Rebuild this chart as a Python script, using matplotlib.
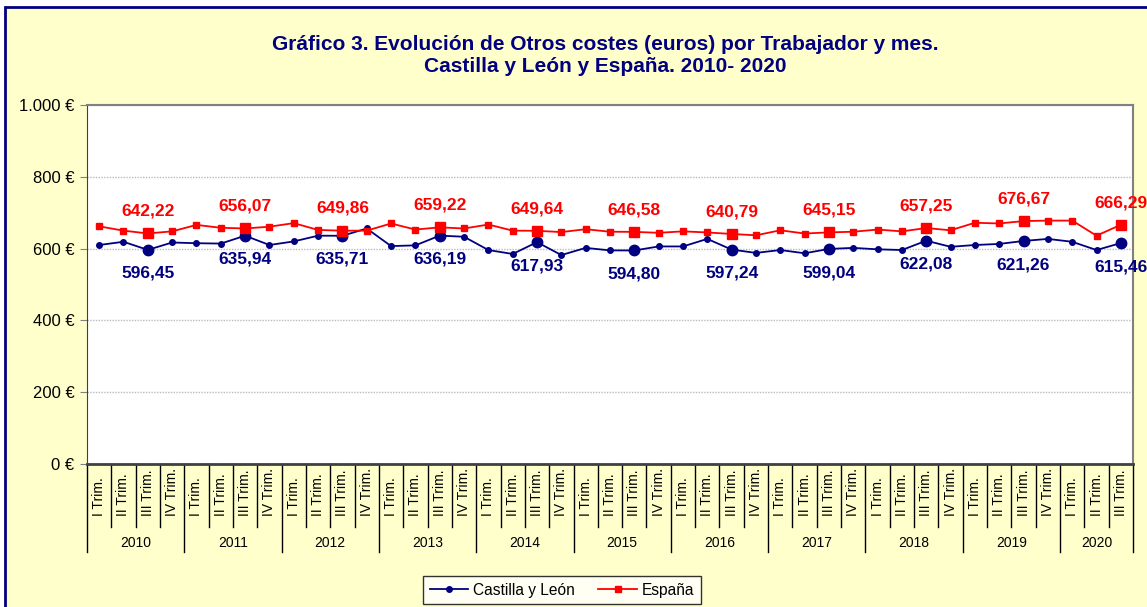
import numpy as np
import matplotlib
matplotlib.use("Agg")
import matplotlib.pyplot as plt
from matplotlib.patches import Rectangle
from matplotlib.lines import Line2D
from matplotlib.transforms import blended_transform_factory

plt.rcParams['font.family'] = ['Liberation Sans', 'DejaVu Sans']

# data
years = ["2010", "2011", "2012", "2013", "2014", "2015", "2016", "2017", "2018", "2019", "2020"]
quarters = ["I Trim.", "II Trim.", "III Trim.", "IV Trim."]
n_last_year = 3  # 2020 only up to III Trim.

castilla = [610, 619, 596.45, 617,
            615, 614, 635.94, 610,
            620, 636, 635.71, 656,
            607, 609, 636.19, 633,
            596, 585, 617.93, 582,
            602, 595, 594.80, 606,
            606, 627, 597.24, 588,
            596, 587, 599.04, 602,
            598, 596, 622.08, 605,
            610, 613, 621.26, 627,
            619, 596, 615.46]
espana = [662, 650, 642.22, 648,
          666, 658, 656.07, 661,
          671, 652, 649.86, 650,
          670, 653, 659.22, 656,
          667, 650, 649.64, 646,
          654, 647, 646.58, 644,
          648, 645, 640.79, 637,
          651, 642, 645.15, 647,
          653, 648, 657.25, 651,
          672, 670, 676.67, 678,
          678, 636, 666.29]

yticks = [0, 200, 400, 600, 800, 1000]
ytick_labels = ["0 €", "200 €", "400 €", "600 €", "800 €", "1.000 €"]

navy = "#000080"
red = "#FF0000"
W, H = 1147, 607

fig = plt.figure(figsize=(W / 100, H / 100), dpi=100, facecolor="white")

# yellow chart area with navy frame
fig.patches.append(Rectangle((5 / W, -0.1), 1.2, (H - 7) / H + 0.1,
                             transform=fig.transFigure, facecolor="#FFFFCC",
                             edgecolor=navy, linewidth=2, zorder=-10))

ax = fig.add_axes([87 / W, 1 - 464 / H, 1046 / W, 359 / H])
ax.set_facecolor("white")

labels_x = []
for y in years:
    nq = n_last_year if y == years[-1] else 4
    labels_x += quarters[:nq]
x = np.arange(len(labels_x))

ax.plot(x, castilla, color=navy, lw=1.3, marker="o", ms=4, zorder=3)
ax.plot(x, espana, color=red, lw=1.3, marker="s", ms=4, zorder=3)

# big markers and labels at III Trim.
idx = [i for i, q in enumerate(labels_x) if q == "III Trim."]
ax.plot(x[idx], [castilla[i] for i in idx], ls="none", marker="o", ms=7.5, color=navy, zorder=4)
ax.plot(x[idx], [espana[i] for i in idx], ls="none", marker="s", ms=7.5, color=red, zorder=4)
for i in idx:
    ax.annotate(f"{espana[i]:.2f}".replace(".", ","), (x[i], espana[i]),
                xytext=(0, 16), textcoords="offset points", ha="center", va="center",
                color=red, fontsize=12.5, fontweight="bold")
    ax.annotate(f"{castilla[i]:.2f}".replace(".", ","), (x[i], castilla[i]),
                xytext=(0, -17), textcoords="offset points", ha="center", va="center",
                color=navy, fontsize=12.5, fontweight="bold")

ax.set_xlim(-0.5, len(x) - 0.5)
ax.set_ylim(0, 1000)
ax.set_yticks(yticks)
ax.set_yticklabels(ytick_labels, fontsize=12)
ax.tick_params(axis="y", length=5, color="#808080", pad=4)
ax.yaxis.grid(True, color="#BBBBBB", linestyle=(0, (1, 1)), linewidth=1)
ax.set_axisbelow(True)
ax.set_xticks([])

for s in ["top", "right"]:
    ax.spines[s].set_color("#808080")
    ax.spines[s].set_linewidth(1.5)
ax.spines["left"].set_color("#404040")
ax.spines["bottom"].set_color("#404040")
ax.spines["bottom"].set_linewidth(2)

# multi-level category axis
tr = blended_transform_factory(ax.transData, fig.transFigure)
y0 = 1 - 464 / H
yq = 1 - 527 / H
yy = 1 - 552 / H
year_bounds = [0]
for y in years:
    nq = n_last_year if y == years[-1] else 4
    year_bounds.append(year_bounds[-1] + nq)
for b in range(len(x) + 1):
    bot = yy if b in year_bounds else yq
    ax.add_line(Line2D([b - 0.5, b - 0.5], [y0, bot], transform=tr,
                       color="black", lw=1, clip_on=False))
for i, lab in enumerate(labels_x):
    ax.text(i, 1 - 516 / H, lab, transform=tr, rotation=90, ha="center", va="bottom",
            fontsize=10)
for k, y in enumerate(years):
    c = (year_bounds[k] + year_bounds[k + 1]) / 2 - 0.5
    ax.text(c, 1 - 543 / H, y, transform=tr, ha="center", va="center", fontsize=10)

fig.text(605 / W, 1 - 44 / H,
         "Gráfico 3. Evolución de Otros costes (euros) por Trabajador y mes.",
         ha="center", va="center", fontsize=15, fontweight="bold", color=navy)
fig.text(605 / W, 1 - 66 / H, "Castilla y León y España. 2010- 2020",
         ha="center", va="center", fontsize=15, fontweight="bold", color=navy)

handles = [Line2D([], [], color=navy, marker="o", ms=4, lw=1.3),
           Line2D([], [], color=red, marker="s", ms=4, lw=1.3)]
leg = fig.legend(handles, ["Castilla y León", "España"], loc="center",
                 bbox_to_anchor=(562 / W, 1 - 590 / H), ncol=2, fontsize=11.2,
                 frameon=True, fancybox=False, edgecolor="black", handlelength=2.5,
                 columnspacing=1.5, borderpad=0.4, handletextpad=0.3)
leg.get_frame().set_linewidth(1)

fig.savefig("out.png", dpi=100, facecolor=fig.get_facecolor())
